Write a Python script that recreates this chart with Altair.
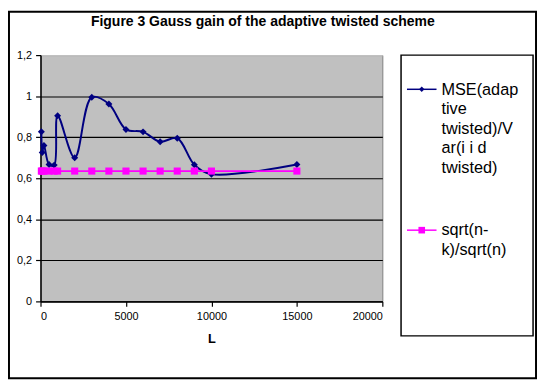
import altair as alt
import pandas as pd

# ---- data ----
L_values = [50, 100, 200, 500, 800, 1000, 2000, 3000, 4000, 5000, 6000, 7000, 8000, 9000, 10000, 15000]
mse_ratio = [0.827, 0.725, 0.76, 0.667, 0.664, 0.905, 0.70, 0.995, 0.962, 0.838, 0.826, 0.778, 0.795, 0.666, 0.62, 0.667]
sqrt_ratio = [0.635, 0.635, 0.635, 0.635, 0.635, 0.635, 0.635, 0.635, 0.635, 0.635, 0.635, 0.635, 0.635, 0.635, 0.635, 0.635]
series_names = ["MSE(adaptive twisted)/Var(i i d twisted)", "sqrt(n-k)/sqrt(n)"]
legend_lines = [["MSE(adap", "tive", "twisted)/V", "ar(i i d", "twisted)"], ["sqrt(n-", "k)/sqrt(n)"]]
series_colors = ["#000080", "#FF00FF"]
series_shapes = ["diamond", "square"]
x_ticks = [0, 5000, 10000, 15000, 20000]
y_ticks = [0, 0.2, 0.4, 0.6, 0.8, 1.0, 1.2]
title_text = "Figure 3 Gauss gain of the adaptive twisted scheme"
x_title = "L"

df = pd.DataFrame({
    "L": L_values + L_values,
    "value": mse_ratio + sqrt_ratio,
    "series": [series_names[0]] * len(L_values) + [series_names[1]] * len(L_values),
})

FONT = "Liberation Sans"

x_enc = alt.X("L:Q",
              scale=alt.Scale(domain=[0, 20000], nice=False),
              axis=alt.Axis(values=x_ticks, format="d", title=x_title,
                            titleFontSize=13, titleFontWeight="bold", titlePadding=12,
                            labelPadding=4, grid=False))
y_enc = alt.Y("value:Q",
              scale=alt.Scale(domain=[0, 1.2], nice=False),
              axis=alt.Axis(values=y_ticks, title=None, labelPadding=4,
                            labelExpr="replace(format(datum.value, '~g'), '.', ',')",
                            grid=True, gridWidth=1.2,
                            gridColor={"condition": {"test": "datum.value > 1.1", "value": "#C0C0C0"},
                                       "value": "black"}))

base = alt.Chart(df)
layers = []
interps = ["catmull-rom", "linear"]
for i, name in enumerate(series_names):
    sub = base.transform_filter(alt.datum.series == name)
    layers.append(sub.mark_line(color=series_colors[i], strokeWidth=2 if i == 0 else 1.8,
                                interpolate=interps[i]).encode(x=x_enc, y=y_enc))
    layers.append(sub.mark_point(shape=series_shapes[i], filled=True, opacity=1,
                                 color=series_colors[i], size=50 if i == 0 else 52).encode(x=x_enc, y=y_enc))

one = alt.Chart(pd.DataFrame({"k": [0]}))

# outer frame
frame = one.mark_rect(fill="transparent", stroke="black", strokeWidth=2).encode(
    x=alt.value(-32), x2=alt.value(503), y=alt.value(-44), y2=alt.value(328))

# title
title = one.mark_text(font=FONT, fontSize=14.2, fontWeight="bold", align="center",
                      baseline="alphabetic", color="black").encode(
    x=alt.value(225.7), y=alt.value(-30), text=alt.value(title_text))

# legend
legend_layers = [one.mark_rect(fill="white", stroke="black", strokeWidth=1.5).encode(
    x=alt.value(366), x2=alt.value(500), y=alt.value(0), y2=alt.value(285))]
sym_y = [34.7, 177.7]
txt_y = [40.3, 183.0]
for i in range(2):
    legend_layers.append(one.mark_rule(color=series_colors[i], strokeWidth=1.5).encode(
        x=alt.value(372), x2=alt.value(402), y=alt.value(sym_y[i])))
    legend_layers.append(one.mark_point(shape=series_shapes[i], filled=True, opacity=1,
                                        color=series_colors[i], size=30 if i == 0 else 45).encode(
        x=alt.value(387), y=alt.value(sym_y[i])))
    legend_layers.append(one.mark_text(font=FONT, fontSize=16.5, lineHeight=19.85, align="left",
                                       baseline="alphabetic", color="black").encode(
        x=alt.value(407), y=alt.value(txt_y[i]), text=alt.value(legend_lines[i])))

chart = alt.layer(*layers, frame, title, *legend_layers).properties(
    width=347, height=250,
    autosize=alt.AutoSizeParams(type="none"),
    padding={"left": 33, "top": 45, "right": 157, "bottom": 79},
    background="white",
).configure_view(
    fill="#C0C0C0", stroke="#808080", strokeWidth=1
).configure_axis(
    domainColor="black", domainWidth=1.5, tickColor="black", tickWidth=1.2, tickSize=5,
    labelColor="black", labelFont=FONT, labelFontSize=11,
    titleColor="black", titleFont=FONT,
)

chart.save("out.html", embed_options={"renderer": "svg", "actions": False})
